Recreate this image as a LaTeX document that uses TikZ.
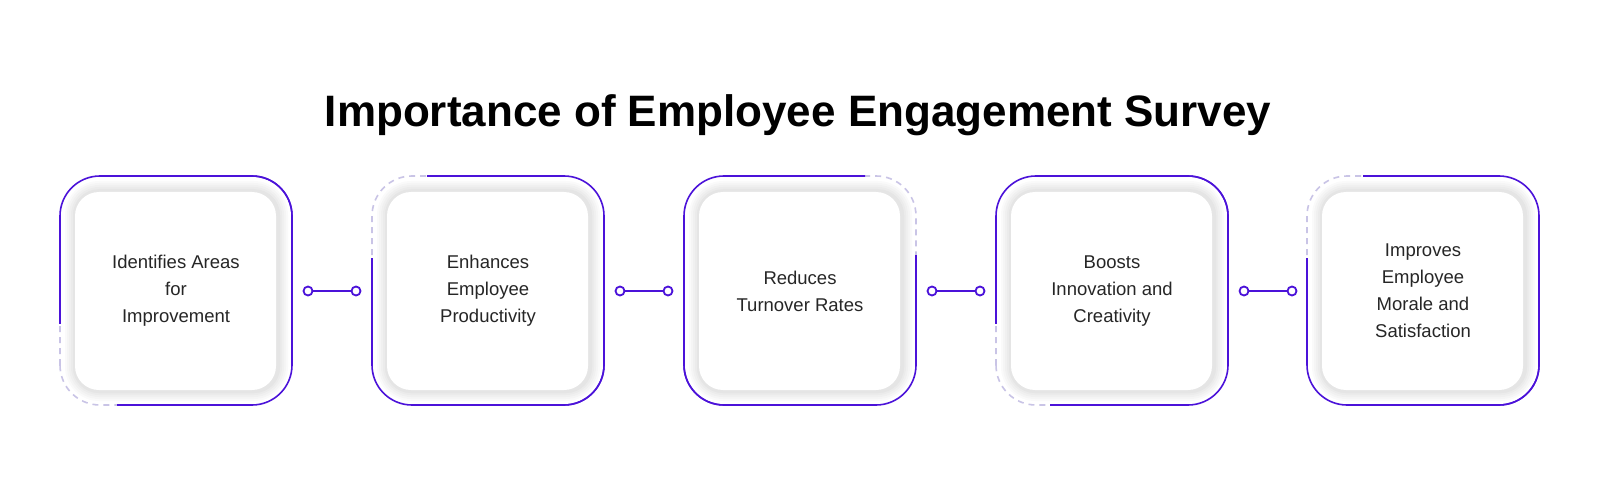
\documentclass[tikz,border=0pt]{standalone}
\usepackage{fontspec}
\setmainfont{Liberation Sans}
\usetikzlibrary{calc}
\definecolor{pur}{HTML}{4B12D9}
\definecolor{lav}{HTML}{C9C4E6}
\tikzset{
  frame/.style={draw=pur,line width=1.6pt,rounded corners=40pt},
  dframe/.style={draw=lav,line width=1.6pt,rounded corners=40pt,dash pattern=on 6pt off 5pt},
  inner/.style={fill=white,rounded corners=24pt},
  lbl/.style={align=center,font=\fontsize{18.5}{27}\selectfont,text=black!85},
  dotc/.style={draw=pur,line width=1.8pt,fill=white,circle,inner sep=0pt,minimum size=9pt},
}
% #1 L, #2..#5 dashed corner region x1 x2 y1 y2
\newcommand\myframe[5]{%
  \begin{scope}\clip (#2,#4) rectangle (#3,#5);
    \draw[dframe] (#1,75) rectangle ++(232,229);\end{scope}
  \begin{scope}\clip (0,0) rectangle (#2,480);\draw[frame] (#1,75) rectangle ++(232,229);\end{scope}
  \begin{scope}\clip (#3,0) rectangle (1600,480);\draw[frame] (#1,75) rectangle ++(232,229);\end{scope}
  \begin{scope}\clip (0,0) rectangle (1600,#4);\draw[frame] (#1,75) rectangle ++(232,229);\end{scope}
  \begin{scope}\clip (0,#5) rectangle (1600,480);\draw[frame] (#1,75) rectangle ++(232,229);\end{scope}
  \foreach \k in {10,8,6,4,2}{\fill[black,opacity=0.02,rounded corners=24pt+\k pt] ($(#1+15,89)+(-\k pt,-\k pt)$) rectangle ($(#1+218,289)+(\k pt,\k pt)$);}
  \fill[black!10,rounded corners=26pt] (#1+13,87) rectangle (#1+220,290);
  \fill[inner] (#1+15,90) rectangle (#1+216,288);
}
\begin{document}
\begin{tikzpicture}[x=1pt,y=1pt]
\useasboundingbox[fill=white] (0,0) rectangle (1600,480);
\node[anchor=base] (title) at (798,353) {\fontsize{44}{52}\selectfont\bfseries Importance of Employee Engagement Survey};
\myframe{60}{40}{117}{60}{157}
\myframe{372}{350}{427}{222}{330}
\myframe{684}{865}{930}{225}{330}
\myframe{996}{980}{1050}{60}{157}
\myframe{1307}{1290}{1363}{222}{330}
\node[lbl] (b1) at (176,189) {Identifies Areas\\for\\Improvement};
\node[lbl] (b2) at (488,189) {Enhances\\Employee\\Productivity};
\node[lbl] (b3) at (800,189) {Reduces\\Turnover Rates};
\node[lbl] (b4) at (1112,189) {Boosts\\Innovation and\\Creativity};
\node[lbl] (b5) at (1423,189) {Improves\\Employee\\Morale and\\Satisfaction};
\foreach \L [count=\i] in {60,372,684,996}{
  \node[dotc] (p\i) at (\L+248,189) {};
  \node[dotc] (q\i) at (\L+296,189) {};
  \draw[pur,line width=1.8pt] (p\i) -- (q\i);
}
\end{tikzpicture}
\end{document}
